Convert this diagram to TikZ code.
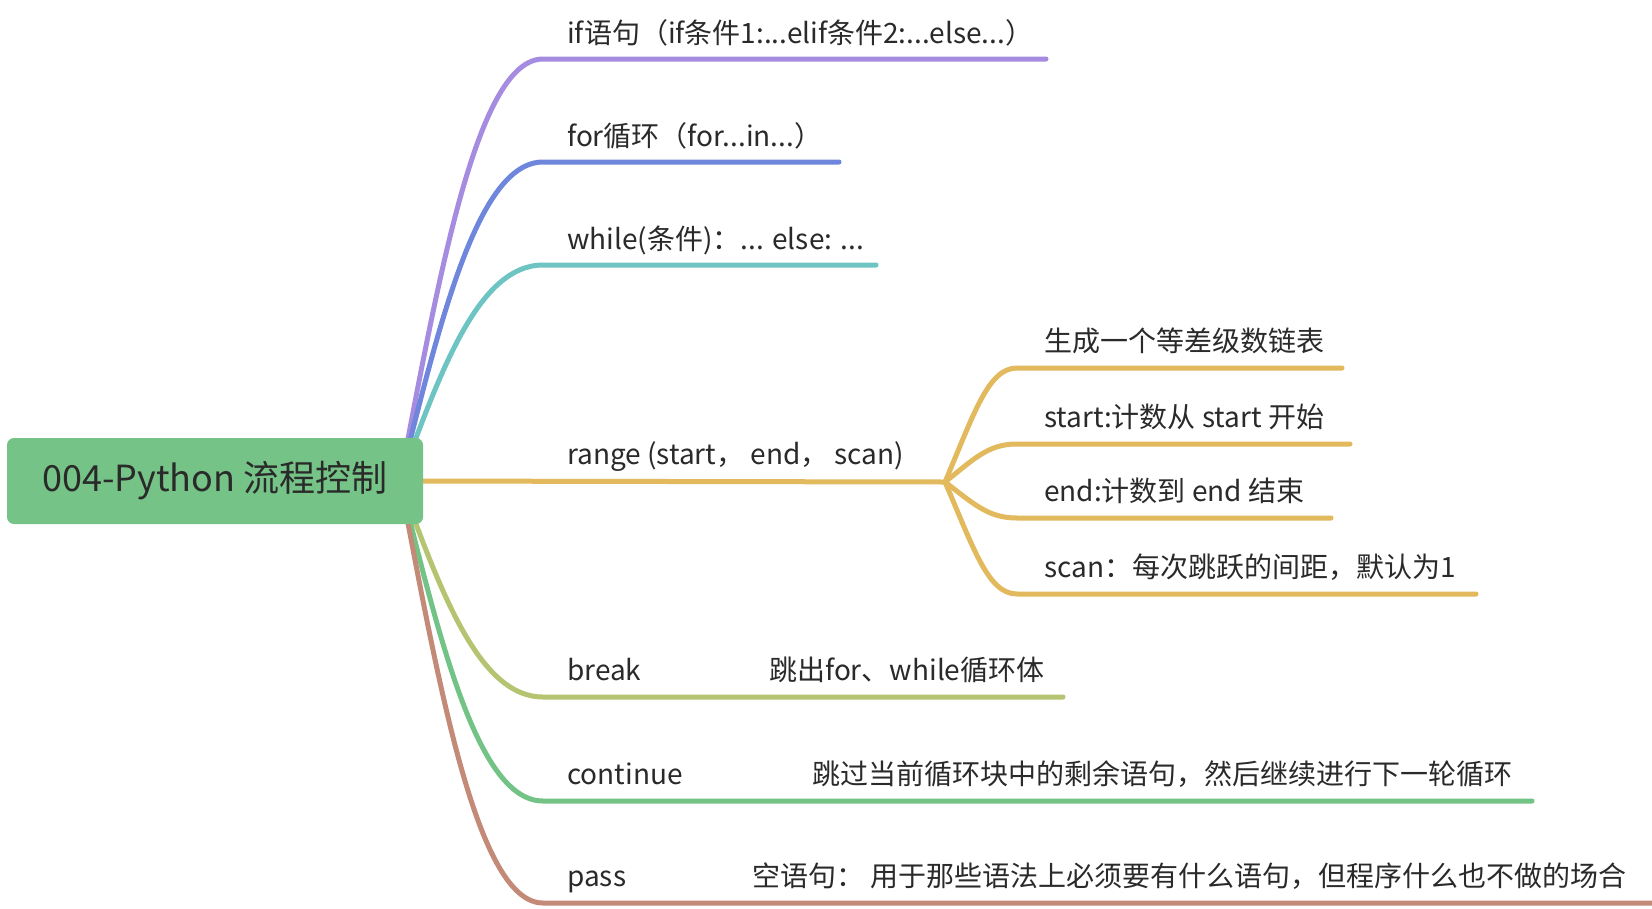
\documentclass[tikz,border=0pt]{standalone}
\usepackage{fontspec}
\setmainfont{Noto Sans CJK SC}
\definecolor{cPurple}{HTML}{A58CE1}
\definecolor{cBlue}{HTML}{6E86DC}
\definecolor{cTeal}{HTML}{6EC4C2}
\definecolor{cYellow}{HTML}{E2B95C}
\definecolor{cOlive}{HTML}{B4C470}
\definecolor{cGreen}{HTML}{73C387}
\definecolor{cBrown}{HTML}{C48A78}
\definecolor{cRoot}{HTML}{75C387}
\definecolor{txt}{HTML}{2A2A2A}
\begin{document}
\begin{tikzpicture}[x=1pt,y=-1pt,
  br/.style={line width=5pt, line cap=round, line join=round},
  lbl/.style={anchor=base west, inner sep=0pt, text=txt, font=\fontsize{28}{34}\selectfont},
  rootbox/.style={fill=cRoot, rounded corners=7pt, minimum width=416pt, minimum height=86pt,
    inner sep=0pt, text=txt, font=\fontsize{36}{42}\selectfont},
]
\useasboundingbox (0,0) rectangle (1652,908);
\fill[white] (0,0) rectangle (1652,908);

% anchor points
\coordinate (S) at (400,481);
\coordinate (J) at (945,482);

% main branch coordinates
\coordinate (hif) at (543,59);   \coordinate (eif) at (1046,59);
\coordinate (hfor) at (543,162); \coordinate (efor) at (839,162);
\coordinate (hwh) at (543,265);  \coordinate (ewh) at (876,265);
\coordinate (hbr) at (543,697);  \coordinate (ebr) at (1063,697);
\coordinate (hco) at (543,801);  \coordinate (eco) at (1532,801);
\coordinate (hpa) at (543,903);  \coordinate (epa) at (1652,903);

% sub branch coordinates
\coordinate (hs1) at (1017,368); \coordinate (es1) at (1342,368);
\coordinate (hs2) at (1017,444); \coordinate (es2) at (1350,444);
\coordinate (hs3) at (1017,518); \coordinate (es3) at (1331,518);
\coordinate (hs4) at (1017,594); \coordinate (es4) at (1476,594);

% labels
\node[lbl] (tif) at (567,43) {if语句（if条件1:...elif条件2:...else...）};
\node[lbl] (tfor) at (567,146) {for循环（for...in...）};
\node[lbl] (twh) at (567,249) {while(条件)：... else: ...};
\node[lbl] (trg) at (567,464) {range (start， end， scan)};
\node[lbl] (ts1) at (1044,351) {生成一个等差级数链表};
\node[lbl] (ts2) at (1044,427) {start:计数从 start 开始};
\node[lbl] (ts3) at (1044,501) {end:计数到 end 结束};
\node[lbl] (ts4) at (1044,577) {scan：每次跳跃的间距，默认为1};
\node[lbl] (tbr) at (567,680) {break};
\node[lbl] (tbrd) at (769,680) {跳出for、while循环体};
\node[lbl] (tco) at (567,784) {continue};
\node[lbl] (tcod) at (812,784) {跳过当前循环块中的剩余语句，然后继续进行下一轮循环};
\node[lbl] (tpa) at (567,886) {pass};
\node[lbl] (tpad) at (752,886) {空语句： 用于那些语法上必须要有什么语句，但程序什么也不做的场合};

% main branches
\draw[br,cPurple] (S) .. controls +(40,-211) and +(-65,0) .. (hif) -- (eif);
\draw[br,cBlue]   (S) .. controls +(40,-160) and +(-65,0) .. (hfor) -- (efor);
\draw[br,cTeal]   (S) .. controls +(40,-108) and +(-65,0) .. (hwh) -- (ewh);
\draw[br,cOlive]  (S) .. controls +(40,108) and +(-65,0) .. (hbr) -- (ebr);
\draw[br,cGreen]  (S) .. controls +(40,160) and +(-65,0) .. (hco) -- (eco);
\draw[br,cBrown]  (S) .. controls +(40,211) and +(-65,0) .. (hpa) -- (epa);
\draw[br,cYellow] (S) -- (J);

% sub branches
\draw[br,cYellow] (J) .. controls +(29,-68) and +(-29,0) .. (hs1) -- (es1);
\draw[br,cYellow] (J) .. controls +(29,-23) and +(-29,0) .. (hs2) -- (es2);
\draw[br,cYellow] (J) .. controls +(29,22) and +(-29,0) .. (hs3) -- (es3);
\draw[br,cYellow] (J) .. controls +(29,67) and +(-29,0) .. (hs4) -- (es4);

% root
\node[rootbox] (root) at (215,481) {004-Python 流程控制};
\end{tikzpicture}
\end{document}
